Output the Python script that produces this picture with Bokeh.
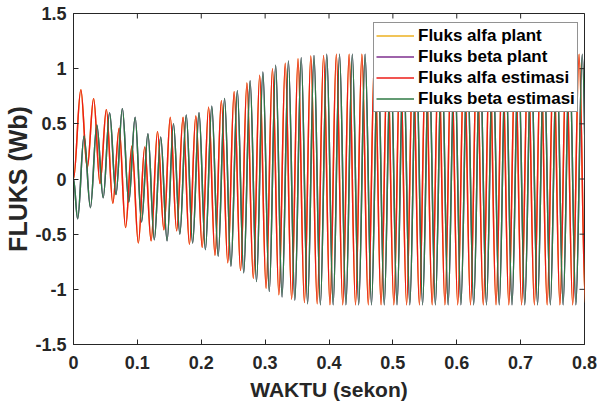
import math
from bokeh.plotting import figure
from bokeh.models import Range1d, FixedTicker, Legend, LegendItem
from bokeh.embed import file_html
from bokeh.resources import INLINE

# ---------------- data ----------------
x_ticks = [0, 0.1, 0.2, 0.3, 0.4, 0.5, 0.6, 0.7, 0.8]
x_tick_labels = ["0", "0.1", "0.2", "0.3", "0.4", "0.5", "0.6", "0.7", "0.8"]
y_ticks = [-1.5, -1, -0.5, 0, 0.5, 1, 1.5]
y_tick_labels = ["-1.5", "-1", "-0.5", "0", "0.5", "1", "1.5"]

series_names = ["Fluks alfa plant", "Fluks beta plant",
                "Fluks alfa estimasi", "Fluks beta estimasi"]
series_colors = ["#EDB120", "#7E2F8E", "#EC1C17", "#2F7A45"]

start_time = 0.0
half_period = 0.01          # 50 Hz flux: one extreme every 10 ms

# alfa flux: value at t=0, then alternating peak/trough values
alfa_start = 0.0
alfa_first_extreme_time = 0.0115
alfa_extremes = [
    0.81, 0.10, 0.73, -0.04, 0.63, -0.22, 0.46, -0.44, 0.30, -0.58,
    0.29, -0.56, 0.43, -0.46, 0.56, -0.47, 0.56, -0.59, 0.57, -0.62,
    0.65, -0.69, 0.71, -0.76, 0.79, -0.83, 0.87, -0.90, 0.94, -0.99,
    1.00, -1.05, 1.05, -1.09, 1.09, -1.12, 1.115, -1.13, 1.12, -1.14,
    1.13, -1.14, 1.13, -1.14, 1.13, -1.14, 1.13, -1.14, 1.13, -1.14,
    1.13, -1.14, 1.13, -1.14, 1.13, -1.14, 1.13, -1.14, 1.13, -1.14,
    1.13, -1.14, 1.13, -1.14, 1.13, -1.14, 1.13, -1.14, 1.13, -1.14,
    1.13, -1.14, 1.13, -1.14, 1.13, -1.14, 1.13, -1.14, 1.13, -1.14,
]

# beta flux: value at t=0, then alternating trough/peak values
beta_start = 0.0
beta_first_extreme_time = 0.0065
beta_extremes = [
    -0.36, 0.39, -0.26, 0.49, -0.17, 0.60, -0.14, 0.64, -0.21, 0.56,
    -0.39, 0.41, -0.55, 0.38, -0.56, 0.50, -0.50, 0.58, -0.58, 0.60,
    -0.64, 0.66, -0.70, 0.73, -0.79, 0.80, -0.85, 0.89, -0.93, 0.97,
    -1.02, 1.03, -1.07, 1.07, -1.10, 1.10, -1.13, 1.12, -1.14, 1.13,
    -1.14, 1.13, -1.14, 1.13, -1.14, 1.13, -1.14, 1.13, -1.14, 1.13,
    -1.14, 1.13, -1.14, 1.13, -1.14, 1.13, -1.14, 1.13, -1.14, 1.13,
    -1.14, 1.13, -1.14, 1.13, -1.14, 1.13, -1.14, 1.13, -1.14, 1.13,
    -1.14, 1.13, -1.14, 1.13, -1.14, 1.13, -1.14, 1.13, -1.14, 1.13,
    -1.14,
]


def segments(t_start, v_start, t_first, extremes):
    ts = [t_start] + [t_first + half_period * i for i in range(len(extremes))]
    vs = [v_start] + list(extremes)
    k = 0.3634  # cubic Bezier shape factor approximating a half cosine
    x0, x1, y0, y1 = ts[:-1], ts[1:], vs[:-1], vs[1:]
    cx0 = [a + k * (b - a) for a, b in zip(x0, x1)]
    cx1 = [b - k * (b - a) for a, b in zip(x0, x1)]
    return dict(x0=x0, y0=y0, x1=x1, y1=y1, cx0=cx0, cy0=y0, cx1=cx1, cy1=y1)


alfa_seg = segments(start_time, alfa_start, alfa_first_extreme_time, alfa_extremes)
beta_seg = segments(start_time, beta_start, beta_first_extreme_time, beta_extremes)

# ---------------- figure ----------------
FONT = "Liberation Sans"
TXT = "#262626"

p = figure(width=597, height=404, output_backend="svg", toolbar_location=None,
           x_range=Range1d(0, 0.8), y_range=Range1d(-1.5, 1.5),
           min_border_left=73, min_border_right=13, min_border_top=13,
           min_border_bottom=60)
p.xgrid.visible = False
p.ygrid.visible = False
p.outline_line_color = TXT
p.outline_line_width = 1
p.background_fill_color = "white"
p.border_fill_color = "white"

renderers = []
for name, color, seg in zip(series_names, series_colors,
                            [alfa_seg, beta_seg, alfa_seg, beta_seg]):
    r = p.bezier(x0="x0", y0="y0", x1="x1", y1="y1", cx0="cx0", cy0="cy0",
                 cx1="cx1", cy1="cy1", source=seg, line_color=color,
                 line_width=1.5)
    renderers.append(r)

# axes
xa = p.xaxis[0]
xa.ticker = FixedTicker(ticks=x_ticks)
xa.major_label_overrides = {t: l for t, l in zip(x_ticks, x_tick_labels)}
xa.axis_label = "WAKTU (sekon)"
ya = p.yaxis[0]
ya.ticker = FixedTicker(ticks=y_ticks)
ya.major_label_overrides = {t: l for t, l in zip(y_ticks, y_tick_labels)}
ya.axis_label = "FLUKS (Wb)"

for ax, size, lsize in ((xa, "18px", "21px"), (ya, "18px", "25px")):
    ax.major_label_text_font = FONT
    ax.major_label_text_font_style = "bold"
    ax.major_label_text_font_size = size
    ax.major_label_text_color = TXT
    ax.axis_label_text_font = FONT
    ax.axis_label_text_font_style = "bold"
    ax.axis_label_text_font_size = lsize
    ax.axis_label_text_color = TXT
    ax.major_tick_in = 5
    ax.major_tick_out = 0
    ax.minor_tick_line_color = None
    ax.axis_line_color = TXT
    ax.major_tick_line_color = TXT
xa.major_label_standoff = 11
xa.axis_label_standoff = 6
ya.major_label_standoff = 7
ya.axis_label_standoff = 0

# mirrored inward tick marks on the top and right edges (MATLAB box style)
p.scatter(x=x_ticks, y=[y_ticks[-1]] * len(x_ticks), marker="dash", size=10,
          angle=math.pi / 2, line_color=TXT, line_width=1)
p.scatter(x=[x_ticks[-1]] * len(y_ticks), y=y_ticks, marker="dash", size=10,
          line_color=TXT, line_width=1)

legend = Legend(items=[LegendItem(label=n, renderers=[r])
                       for n, r in zip(series_names, renderers)],
                location=(300, 232))
legend.label_text_font = FONT
legend.label_text_font_style = "bold"
legend.label_text_font_size = "17px"
legend.label_text_color = "black"
legend.glyph_width = 38
legend.glyph_height = 21
legend.label_height = 21
legend.label_standoff = 4
legend.spacing = 0
legend.padding = 2
legend.margin = 0
legend.border_line_color = TXT
legend.border_line_width = 1
legend.background_fill_color = "white"
legend.background_fill_alpha = 1
p.add_layout(legend)

open("out.html", "w").write(file_html(p, INLINE))
